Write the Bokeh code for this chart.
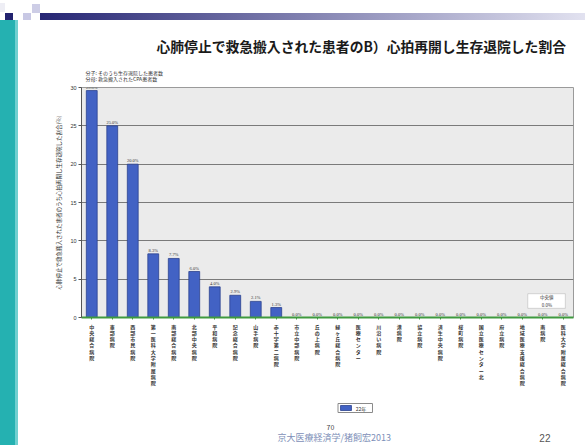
from bokeh.plotting import figure
from bokeh.layouts import column
from bokeh.models import (FactorRange, BoxAnnotation, Label, ColumnDataSource, FixedTicker,
                          LabelSet, Title, Range1d)
from bokeh.core.properties import value
from bokeh.embed import file_html
from bokeh.resources import INLINE

# ---------------- data ----------------
hospitals = [
    "中央総合病院", "東部病院", "西部市民病院", "第一医科大学附属病院",
    "南部総合病院", "北部中央病院", "平和病院", "記念総合病院",
    "山手病院", "赤十字第二病院", "市立中部病院", "丘の上病院",
    "緑ヶ丘総合病院", "医療センター", "川沿い病院", "港病院",
    "協立病院", "済生中央病院", "桜町病院", "国立医療センター北",
    "府立病院", "地域医療支援総合病院", "南病院", "医科大学附属総合病院",
]
rates = [29.6, 25.0, 20.0, 8.3, 7.7, 6.0, 4.0, 2.9, 2.1, 1.3,
         0.0, 0.0, 0.0, 0.0, 0.0, 0.0, 0.0, 0.0, 0.0, 0.0, 0.0, 0.0, 0.0, 0.0]
y_ticks = [0, 5, 10, 15, 20, 25, 30]
series_name = "22年"
median_text = "中央値\n0.0%"
title_text = "心肺停止で救急搬入された患者のB）心拍再開し生存退院した割合"
y_title = "心肺停止で救急搬入された患者のうち心拍再開し生存退院した割合(%)"
note_lines = ["分子: そのうち生存退院した患者数", "分母: 救急搬入されたCPA患者数"]
page_no = "22"
footer_text = "京大医療経済学/猪飼宏2013"
footer_num = "70"

FONT = "Noto Sans CJK JP"
BAR_FILL = "#4262c4"
BAR_LINE = "#2c438f"

factors = ["\n".join(h) for h in hospitals]
src = ColumnDataSource(dict(x=factors, y=rates, lab=[f"{v:.1f}%" for v in rates]))

# ---------------- chart ----------------
p = figure(width=585, height=392, x_range=FactorRange(factors=factors),
           y_range=(y_ticks[0], y_ticks[-1]), output_backend="svg", toolbar_location=None,
           min_border_left=81, min_border_right=12, min_border_top=87, min_border_bottom=75,
           background_fill_color="#ebebeb", border_fill_alpha=0,
           outline_line_color="#9a9a9a")

bars = p.vbar(x="x", top="y", width=0.53, source=src,
              fill_color=BAR_FILL, line_color=BAR_LINE, line_width=0.8)

p.add_layout(LabelSet(x="x", y="y", text="lab", source=src, y_offset=1,
                      text_font_size="4.5px", text_align="center", text_baseline="bottom",
                      text_color="#333333", text_font=FONT))

p.xgrid.visible = False
p.ygrid.ticker = FixedTicker(ticks=y_ticks)
p.ygrid.grid_line_color = "#7a7a7a"
p.ygrid.grid_line_width = 1

p.yaxis.ticker = FixedTicker(ticks=y_ticks)
p.yaxis.axis_label = y_title
p.yaxis.axis_label_text_font = FONT
p.yaxis.axis_label_text_font_size = "5.5px"
p.yaxis.axis_label_text_font_style = "normal"
p.yaxis.axis_label_text_color = "#333333"
p.yaxis.axis_label_standoff = 4
p.yaxis.major_label_text_font_size = "5.5px"
p.yaxis.major_label_text_color = "#333333"
p.yaxis.major_label_standoff = 2
p.yaxis.axis_line_color = "#555555"
p.yaxis.major_tick_out = 3
p.yaxis.major_tick_in = 0
p.yaxis.minor_tick_out = 0
p.yaxis.major_tick_line_color = "#555555"

p.xaxis.axis_line_color = "#3f9a3f"
p.xaxis.axis_line_width = 2
p.xaxis.major_tick_out = 2
p.xaxis.major_tick_in = 0
p.xaxis.major_tick_line_color = "#3f9a3f"
p.xaxis.major_label_text_font = FONT
p.xaxis.major_label_text_font_size = "5px"
p.xaxis.major_label_text_font_style = "bold"
p.xaxis.major_label_text_color = "#333333"
p.xaxis.major_label_text_line_height = 0.9
p.xaxis.major_label_standoff = 3

# median box
p.add_layout(BoxAnnotation(left=21.77, right=23.6, bottom=1.2, top=3.1,
                           fill_color="white", fill_alpha=1, line_color="#888888", line_width=1))
p.add_layout(Label(x=22.7, y=2.15, text=median_text, text_align="center",
                   text_baseline="middle", text_font=FONT, text_font_size="4.5px",
                   text_color="#333333"))

# titles above (nearest to frame first)
p.add_layout(Title(text="\n".join(note_lines), align="left", offset=4, text_font=FONT,
                   text_font_size="5px", text_font_style="normal", text_color="#333333",
                   text_line_height=0.9, standoff=10), "above")
p.add_layout(Title(text=title_text, align="left", offset=75, text_font=FONT,
                   text_font_size="13.8px", text_font_style="bold", text_color="#1a1a1a",
                   standoff=14), "above")

# ---------------- footer strip (pixel coordinates of the slide) ----------------
f = figure(width=585, height=53, x_range=Range1d(0, 585), y_range=Range1d(445, 392),
           output_backend="svg", toolbar_location=None,
           min_border_left=0, min_border_right=0, min_border_top=0, min_border_bottom=0,
           background_fill_alpha=0, border_fill_alpha=0, outline_line_color=None)
f.axis.visible = False
f.grid.visible = False

# legend box (drawn by hand in the strip)
f.quad(left=[305], right=[346], top=[403], bottom=[412], fill_color="white",
       line_color="#8a8a8a", line_width=1)
f.quad(left=[308], right=[321], top=[405], bottom=[410], fill_color=BAR_FILL,
       line_color=BAR_LINE, line_width=0.8)
f.text(x=[326], y=[407.5], text=[series_name], text_align="left", text_baseline="middle",
       text_font=value(FONT), text_font_size="5px", text_color="#333333")

f.text(x=[296], y=[426], text=[footer_num], text_align="center", text_baseline="middle",
       text_font=value(FONT), text_font_size="7px", text_color="#444444")
f.text(x=[233], y=[437], text=[footer_text], text_align="left", text_baseline="middle",
       text_font=value(FONT), text_font_size="9px", text_color="#7d8fb8")
f.text(x=[551], y=[437], text=[page_no], text_align="center", text_baseline="middle",
       text_font=value("Liberation Sans"), text_font_size="10px", text_color="#555555")

# ---------------- slide decoration (teal bar, squares, header gradient) ----------------
deco = {
    "background-color": "white",
    "background-image": ", ".join([
        "linear-gradient(#25b1b1,#25b1b1)",
        "linear-gradient(#70d0d0,#70d0d0)",
        "linear-gradient(to right,#262674,#e2e2f0)",
        "linear-gradient(#23236f,#23236f)",
        "linear-gradient(#c8c8e4,#c8c8e4)",
        "linear-gradient(#cdcde6,#cdcde6)",
        "linear-gradient(#eeeef5,#eeeef5)",
    ]),
    "background-position": "0px 20px, 15px 20px, 40px 13px, 5px 13px, 23px 13px, 32px 4px, 0px 3px",
    "background-size": "15px 425px, 3px 425px, 545px 7px, 8px 7px, 8px 7px, 8px 9px, 5px 9px",
    "background-repeat": "no-repeat",
}

layout = column(p, f, spacing=0, styles=deco)

open("out.html", "w").write(file_html(layout, INLINE))
